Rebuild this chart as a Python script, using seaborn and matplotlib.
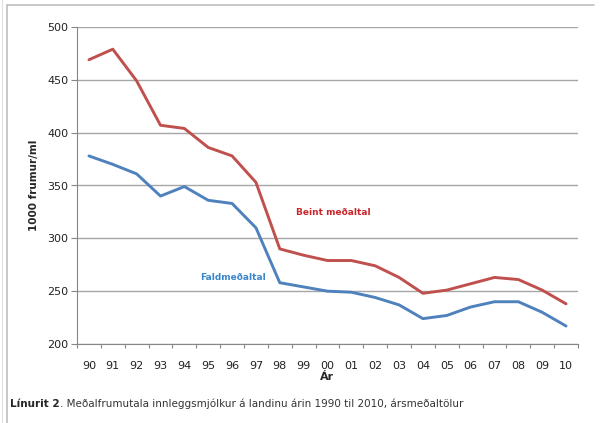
import matplotlib
matplotlib.use("Agg")
import matplotlib.pyplot as plt
from matplotlib.lines import Line2D
import seaborn as sns
import pandas as pd

years = ["90", "91", "92", "93", "94", "95", "96", "97", "98", "99", "00",
         "01", "02", "03", "04", "05", "06", "07", "08", "09", "10"]
beint = [469, 479, 449, 407, 404, 386, 378, 353, 290, 284, 279,
         279, 274, 263, 248, 251, 257, 263, 261, 251, 238]
fald = [378, 370, 361, 340, 349, 336, 333, 310, 258, 254, 250,
        249, 244, 237, 224, 227, 235, 240, 240, 230, 217]

red = "#C0504D"
blue = "#4F81BD"

df = pd.DataFrame({"pos": range(len(years)), "beint": beint, "fald": fald})

sns.set_style("white")
plt.rcParams["font.family"] = ["DejaVu Sans"]

fig = plt.figure(figsize=(6.04, 4.23), dpi=100)
ax = fig.add_axes([77 / 604, 1 - 344 / 423, (578 - 77) / 604, (344 - 27) / 423])

sns.lineplot(data=df, x="pos", y="beint", color=red, linewidth=2.1, ax=ax)
sns.lineplot(data=df, x="pos", y="fald", color=blue, linewidth=2.1, ax=ax)

ax.set_xlim(-0.5, len(years) - 0.5)
ax.set_ylim(200, 500)
ax.set_yticks(range(200, 501, 50))
ax.yaxis.grid(True, color="#a6a6a6", linewidth=1.0)
ax.set_axisbelow(True)

# category labels centred, tick marks between categories
ax.set_xticks([i + 0.5 for i in range(-1, len(years))], minor=False)
ax.set_xticklabels([])
ax.set_xticks(range(len(years)), minor=True)
ax.set_xticklabels(years, minor=True)
ax.tick_params(axis="x", which="major", bottom=True, length=3,
               color="#868686", width=0.8, direction="out")
ax.tick_params(axis="x", which="minor", bottom=False, length=0, labelsize=8,
               pad=12, labelcolor="#222222")
ax.tick_params(axis="y", length=4, color="#868686", width=0.8, labelsize=8,
               labelcolor="#222222", pad=2, left=True, direction="out")

for side in ["top", "right"]:
    ax.spines[side].set_visible(False)
for side in ["left", "bottom"]:
    ax.spines[side].set_color("#868686")
    ax.spines[side].set_linewidth(0.8)

ax.set_xlabel("Ár", fontsize=8, fontweight="bold", labelpad=1)
ax.set_ylabel("1000 frumur/ml", fontsize=7.5, fontweight="bold", labelpad=6)

ax.text(10.23, 324, "Beint meðaltal", color="#C8282C", fontsize=6.5,
        fontweight="bold", ha="center", va="center")
ax.text(6.04, 263, "Faldmeðaltal", color="#3A86CC", fontsize=6.5,
        fontweight="bold", ha="center", va="center")

cy = 1 - 404 / 423
t = fig.text(10 / 604, cy, "Línurit 2", fontsize=7.5, fontweight="bold",
             va="center", ha="left")
fig.canvas.draw()
bb = t.get_window_extent()
fig.text(bb.x1 / 604, cy,
         ". Meðalfrumutala innleggsmjólkur á landinu árin 1990 til 2010, ársmeðaltölur",
         fontsize=7.5, va="center", ha="left", color="#333333")

# outer frame
fig.add_artist(Line2D([7 / 604, 594 / 604], [1 - 5 / 423, 1 - 5 / 423],
                      color="#bfbfbf", linewidth=1.2))
fig.add_artist(Line2D([7 / 604, 7 / 604], [0, 1 - 5 / 423],
                      color="#bfbfbf", linewidth=1.2))
fig.add_artist(Line2D([2 / 604, 2 / 604], [0, 1], color="#e0e0e0", linewidth=0.8))

fig.savefig("out.png", dpi=100)
